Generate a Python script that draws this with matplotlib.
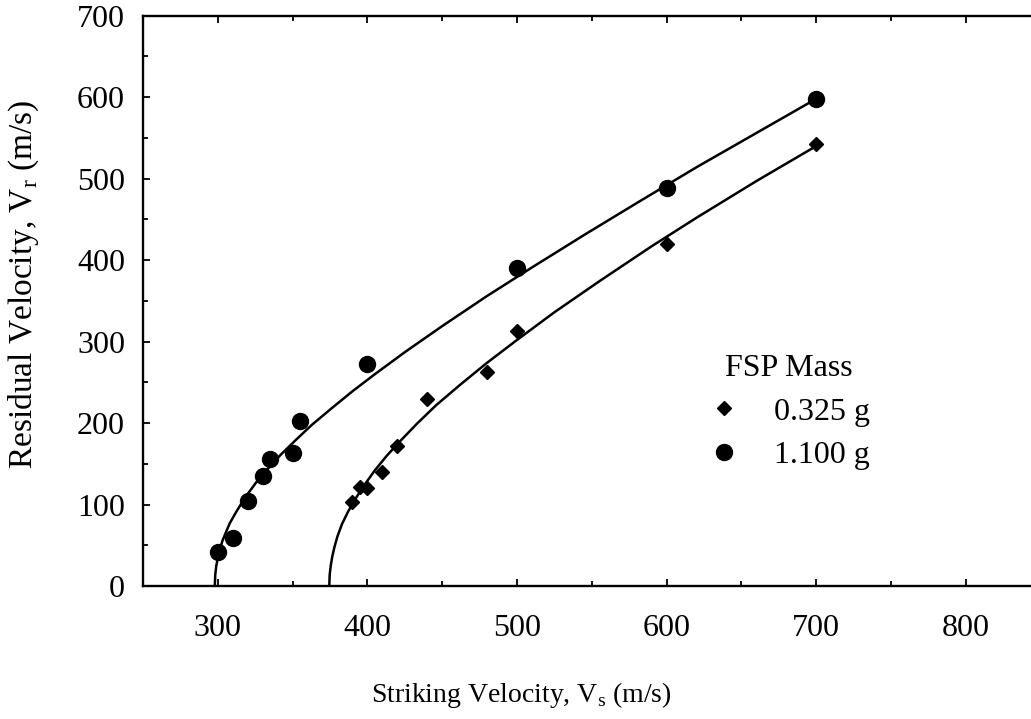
import numpy as np
import matplotlib
matplotlib.use("Agg")
import matplotlib.pyplot as plt
from matplotlib.ticker import MultipleLocator
from matplotlib.lines import Line2D

plt.rcParams['font.family'] = ['Liberation Serif', 'DejaVu Serif']
plt.rcParams['mathtext.fontset'] = 'custom'
plt.rcParams['mathtext.rm'] = 'Liberation Serif'

# measured points, 1.100 g FSP
vs_heavy = [300, 310, 320, 330, 335, 350, 355, 400, 500, 600, 700]
vr_heavy = [42, 59, 104, 135, 156, 163, 203, 272, 390, 489, 598]

# measured points, 0.325 g FSP
vs_light = [390, 395, 400, 410, 420, 440, 480, 500, 600, 700]
vr_light = [103, 122, 120, 140, 172, 230, 263, 313, 420, 542]

# fitted curves
fit_vs_heavy = [298, 298.3, 299, 300, 301.5, 303, 305, 308, 312, 316, 320, 326,
                333, 342, 352, 363, 376, 390, 405, 425, 450, 480, 510, 545,
                580, 620, 660, 700]
fit_vr_heavy = [0, 14, 25, 34, 45, 55, 64, 77, 90, 102, 113, 128,
                143, 161, 179, 198, 218, 239, 260, 287, 319, 356, 391, 431,
                470, 514, 556, 598]

fit_vs_light = [374.5, 374.8, 375.5, 376.5, 378, 380, 383, 387, 392, 398, 405, 413,
                422, 433, 446, 462, 480, 500, 525, 555, 590, 620, 660, 700]
fit_vr_light = [0, 14, 25, 36, 48, 61, 76, 91, 107, 124, 142, 160,
                178, 199, 222, 247, 274, 302, 336, 374, 417, 452, 497, 540]

fig = plt.figure(figsize=(10.31, 7.19), dpi=100)
ax = fig.add_axes([143 / 1031, 1 - 586 / 719, 897.6 / 1031, 570.3 / 719])

ax.plot(fit_vs_heavy, fit_vr_heavy, color='black', lw=1.8, solid_joinstyle='round')
ax.plot(fit_vs_light, fit_vr_light, color='black', lw=1.8, solid_joinstyle='round')
ax.plot(vs_light, vr_light, ls='none', marker='D', ms=7.5, color='black')
ax.plot(vs_heavy, vr_heavy, ls='none', marker='o', ms=11.5, color='black')

ax.set_xlim(250, 850)
ax.set_ylim(0, 700)
ax.xaxis.set_major_locator(MultipleLocator(100))
ax.xaxis.set_minor_locator(MultipleLocator(50))
ax.yaxis.set_major_locator(MultipleLocator(100))
ax.yaxis.set_minor_locator(MultipleLocator(50))
ax.tick_params(which='both', direction='in', top=True, right=False, width=1.3)
ax.tick_params(which='major', length=5, labelsize=23)
ax.tick_params(axis='x', which='major', pad=20)
ax.tick_params(axis='y', which='major', pad=13)
ax.tick_params(which='minor', length=3.5)
for s in ['left', 'bottom', 'top']:
    ax.spines[s].set_linewidth(1.7)
ax.spines['right'].set_visible(False)

fig.text(521 / 1031, 1 - 695 / 719, r'Striking Velocity, V$_\mathregular{s}$ (m/s)',
         ha='center', va='center', fontsize=20)
fig.text(24 / 1031, 1 - 284 / 719, r'Residual Velocity, V$_\mathregular{r}$ (m/s)',
         ha='center', va='center', rotation=90, fontsize=24)

handles = [Line2D([], [], ls='none', marker='D', ms=7.5, color='black'),
           Line2D([], [], ls='none', marker='o', ms=11.5, color='black')]
leg = ax.legend(handles, ['0.325 g', '1.100 g'], title='FSP Mass',
                loc='upper left', bbox_to_anchor=(0.630, 0.407),
                frameon=False, fontsize=23, title_fontsize=23,
                borderpad=0, borderaxespad=0, handlelength=1,
                handletextpad=1.05, labelspacing=0.45)

fig.savefig('out.png', dpi=100)
